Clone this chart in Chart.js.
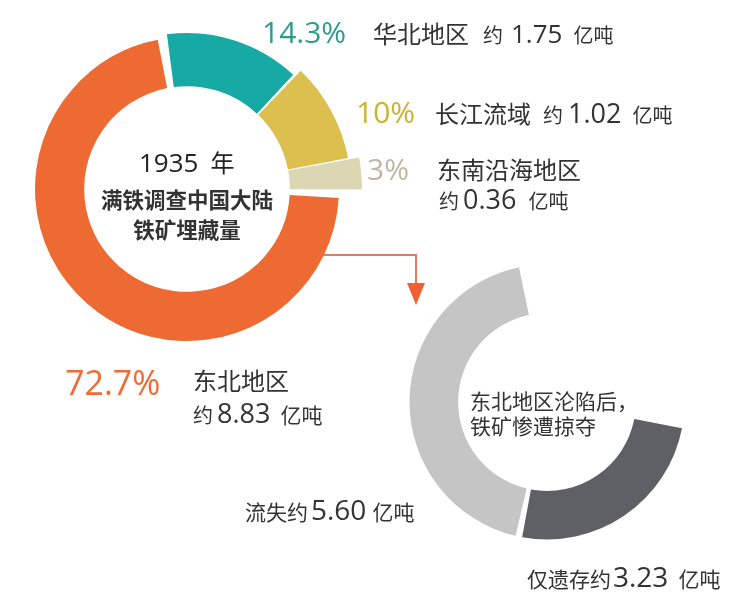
<!DOCTYPE html>
<html>
<head>
<meta charset="utf-8">
<script src="https://cdn.jsdelivr.net/npm/chart.js@4/dist/chart.umd.min.js"></script>
<style>
  html, body { margin: 0; padding: 0; background: #fff; }
  #wrap { position: relative; width: 756px; height: 605px; }
  canvas { position: absolute; left: 0; top: 0; }
</style>
</head>
<body>
<div id="wrap">
  <canvas id="before" width="756" height="605"></canvas>
  <canvas id="after" width="756" height="605"></canvas>
</div>
<script>
// data
const regions = ['华北地区', '长江流域', '东南沿海地区', '东北地区'];
const shares = [14.3, 10, 3, 72.7];          // % of the 1935 survey
const reserves = [1.75, 1.02, 0.36, 8.83];   // 亿吨
const fateLabels = ['仅遗存约', '流失约'];
const fateValues = [3.23, 5.60];             // 亿吨, 东北 after 1931

// styles
const sliceColors = ['#17a9a4', '#ddbf4f', '#ddd6b2', '#ed6b33'];
const pctColors = ['#2f9b8f', '#cdb22f', '#bdb8a4', '#ee6b35'];
const sliceReach = [4, 12, 23, 0];   // extra outer radius of the small slices
const fateColors = ['#5f6066', '#c5c5c5'];
const ink = '#333';
const NUM = '"Open Sans", sans-serif';
const CJK = '"Noto Sans CJK SC", sans-serif';

// draws pieces one after another on the same baseline
function run(ctx, x, y, parts) {
    ctx.textAlign = 'left';
    ctx.textBaseline = 'alphabetic';
    parts.forEach(p => {
        ctx.font = p[1];
        ctx.fillStyle = p[2] || ink;
        ctx.fillText(p[0], x, y);
        x += ctx.measureText(p[0]).width + (p[3] || 0);
    });
}

// let the small slices stick out further than the big one
const reachPlugin = {
    id: 'reach',
    afterDatasetsUpdate(chart) {
        chart.getDatasetMeta(0).data.forEach((arc, i) => {
            arc.outerRadius += sliceReach[i];
        });
    }
};

// arrow from the 东北 slice down to the second ring
const arrowPlugin = {
    id: 'arrow',
    beforeDatasetsDraw(chart) {
        const ctx = chart.ctx;
        ctx.save();
        ctx.strokeStyle = '#e57a5e';
        ctx.lineWidth = 2;
        ctx.beginPath();
        ctx.moveTo(300, 255);
        ctx.lineTo(416, 255);
        ctx.lineTo(416, 285);
        ctx.stroke();
        ctx.fillStyle = '#ee6232';
        ctx.beginPath();
        ctx.moveTo(407, 283);
        ctx.lineTo(425, 283);
        ctx.lineTo(416, 305);
        ctx.closePath();
        ctx.fill();
        ctx.restore();
    }
};

const beforeText = {
    id: 'beforeText',
    afterDraw(chart) {
        const ctx = chart.ctx;
        ctx.save();
        const pct = i => shares[i] + '%';
        const amt = i => reserves[i].toFixed(2);
        // 华北
        run(ctx, 262, 43, [[pct(0), '30px ' + NUM, pctColors[0]]]);
        run(ctx, 373, 43, [[regions[0], '24px ' + CJK, ink, 14], ['约', '20px ' + CJK, ink, 8],
            [amt(0), '500 26px ' + NUM, ink, 11], ['亿吨', '20px ' + CJK]]);
        // 长江
        run(ctx, 356, 123, [[pct(1), '30px ' + NUM, pctColors[1]]]);
        run(ctx, 435, 123, [[regions[1], '24px ' + CJK, ink, 12], ['约', '20px ' + CJK, ink, 5],
            [amt(1), '500 27px ' + NUM, ink, 11], ['亿吨', '20px ' + CJK]]);
        // 东南沿海
        run(ctx, 367, 180, [[pct(2), '30px ' + NUM, pctColors[2]]]);
        run(ctx, 437, 179, [[regions[2], '24px ' + CJK]]);
        run(ctx, 439, 209, [['约', '20px ' + CJK, ink, 4], [amt(2), '500 27px ' + NUM, ink, 12],
            ['亿吨', '20px ' + CJK]]);
        // 东北
        run(ctx, 65, 395, [[pct(3), '34px ' + NUM, pctColors[3]]]);
        run(ctx, 193, 390, [[regions[3], '24px ' + CJK]]);
        run(ctx, 193, 423, [['约', '20px ' + CJK, ink, 4], [amt(3), '500 27px ' + NUM, ink, 10],
            ['亿吨', '21px ' + CJK]]);
        // centre
        run(ctx, 139, 172, [['1935', '500 26px ' + NUM, '#222', 12], ['年', '24px ' + CJK, '#222']]);
        ctx.textAlign = 'center';
        ctx.fillStyle = '#333';
        ctx.font = 'bold 21.5px ' + CJK;
        ctx.fillText('满铁调查中国大陆', 187, 208);
        ctx.fillText('铁矿埋藏量', 187, 238);
        ctx.restore();
    }
};

const afterText = {
    id: 'afterText',
    afterDraw(chart) {
        const ctx = chart.ctx;
        ctx.save();
        run(ctx, 470, 409, [['东北地区沦陷后，', '21px ' + CJK, '#333']]);
        run(ctx, 470, 434, [['铁矿惨遭掠夺', '21px ' + CJK, '#333']]);
        run(ctx, 245, 520, [[fateLabels[1], '21px ' + CJK, ink, 3], [fateValues[1].toFixed(2), '500 28px ' + NUM, ink, 6],
            ['亿吨', '21px ' + CJK]]);
        run(ctx, 527, 587, [[fateLabels[0], '21px ' + CJK, ink, 2], [fateValues[0].toFixed(2), '500 28px ' + NUM, ink, 10],
            ['亿吨', '21px ' + CJK]]);
        ctx.restore();
    }
};

// 1935 reserves ring
let beforeChart = new Chart(document.querySelector('#before'), {
    type: 'doughnut',
    data: {
        labels: regions,
        datasets: [{
            data: shares,
            backgroundColor: sliceColors,
            borderWidth: 0,
            spacing: 6
        }]
    },
    options: {
        responsive: false,
        animation: false,
        events: [],
        rotation: -8,
        radius: 149,
        cutout: '67%',
        layout: { padding: { left: 0, top: 0, right: 382, bottom: 227 } },
        plugins: { legend: { display: false }, tooltip: { enabled: false } }
    },
    plugins: [reachPlugin, arrowPlugin, beforeText]
});

// what happened to the 东北 reserves
let afterChart = new Chart(document.querySelector('#after'), {
    type: 'doughnut',
    data: {
        labels: fateLabels,
        datasets: [{
            data: fateValues,
            backgroundColor: fateColors,
            borderWidth: 0,
            spacing: 5
        }]
    },
    options: {
        responsive: false,
        animation: false,
        events: [],
        rotation: 100,
        circumference: 250,
        radius: 135,
        cutout: '64%',
        layout: { padding: { left: 400, top: 268, right: 64, bottom: 67 } },
        plugins: { legend: { display: false }, tooltip: { enabled: false } }
    },
    plugins: [afterText]
});
</script>
</body>
</html>
